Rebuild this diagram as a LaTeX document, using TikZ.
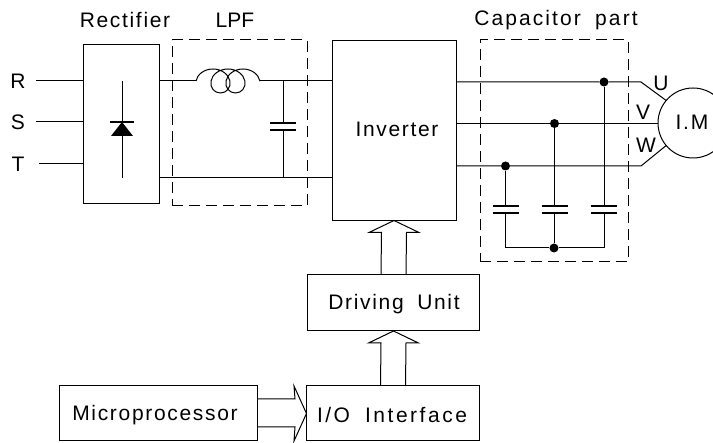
\documentclass[tikz,border=0pt]{standalone}
\usepackage{fontspec}
\setmainfont[LetterSpace=8,WordSpace=1.8]{Liberation Sans}
\usetikzlibrary{positioning,calc,decorations.pathmorphing}
\tikzset{
	block/.style={
		draw,
		line width=1pt,
		inner sep=0pt,
		outer sep=0pt,
	},
	dashbox/.style={
		block,
		dash pattern=on 11pt off 6pt,
	},
	wire/.style={
		line width=1pt,
	},
	plate/.style={
		line width=1.1pt,
	},
	junction/.style={
		circle,
		fill=black,
		inner sep=0pt,
		minimum size=9pt,
	},
	tag/.style={
		inner sep=0pt,
		font=\fontsize{21}{21}\selectfont,
	}
}
% hollow bus arrow: #1 tail point, #2 tip point, pointing up
\newcommand{\busup}[2]{
	\draw[wire] ($(#1)+(-12.5,0)$) -- ($(#2)+(-12.5,12)$) -- ($(#2)+(-25,12)$) -- (#2)
	-- ($(#2)+(25,12)$) -- ($(#2)+(12.5,12)$) -- ($(#1)+(12.5,0)$);
}
\begin{document}
\begin{tikzpicture}[x=1pt,y=-1pt]
	\useasboundingbox (0,0) rectangle (713,443);
	% --- Blocks ---
	\node[block, minimum width=76pt, minimum height=159pt] (rectifier) at (121,124.5) {};
	\node[dashbox, minimum width=135pt, minimum height=166pt] (lpf) at (239.5,123) {};
	\node[block, minimum width=124pt, minimum height=180pt] (inverter) at (394,130.5) {};
	\node[dashbox, minimum width=148pt, minimum height=222pt] (cappart) at (554,151) {};
	\node[block, circle, minimum size=70pt] (motor) at (693,123) {};
	\node[block, minimum width=172pt, minimum height=56pt] (driving) at (393.5,303) {};
	\node[block, minimum width=173pt, minimum height=55pt] (ioface) at (393,413.5) {};
	\node[block, minimum width=198pt, minimum height=55pt] (micro) at (158,413.5) {};

	% --- Titles ---
	\node[tag] (rectlabel) at (125,20) {Rectifier};
	\node[tag, font=\fontsize{21}{21}\selectfont\addfontfeatures{LetterSpace=0}] (lpflabel) at (235,20) {LPF};
	\node[tag, font=\fontsize{21}{21}\selectfont\addfontfeatures{LetterSpace=10}] (caplabel) at (556,20) {Capacitor part};
	\node[tag] (rlabel) at (18,81) {R};
	\node[tag] (slabel) at (18,122) {S};
	\node[tag] (tlabel) at (18,164) {T};
	\node[tag] (invlabel) at (397,129) {Inverter};
	\node[tag] (drvlabel) at (394,304) {Driving Unit};
	\node[tag, font=\fontsize{21}{21}\selectfont\addfontfeatures{LetterSpace=12}] (iolabel) at (392,415) {I/O Interface};
	\node[tag] (miclabel) at (155,415) {Microprocessor};
	\node[tag] (ulabel) at (661,83) {U};
	\node[tag] (vlabel) at (643,112) {V};
	\node[tag] (wlabel) at (646,145) {W};
	\node[tag] (mlabel) at (692,122) {I.M};

	% --- Mains input ---
	\coordinate (rin) at (36,81);
	\coordinate (sin) at (36,122);
	\coordinate (tin) at (39,164);
	\draw[wire] (rin) -- (rin -| rectifier.west);
	\draw[wire] (sin) -- (sin -| rectifier.west);
	\draw[wire] (tin) -- (tin -| rectifier.west);

	% --- Diode ---
	\coordinate (dtop) at (122,81);
	\coordinate (dapex) at (122,122);
	\coordinate (dbot) at (122,178);
	\draw[wire] (dtop) -- (dbot);
	\draw[plate] ($(dapex)+(-12,0)$) -- ($(dapex)+(12,0)$);
	\fill (dapex) -- ($(dapex)+(11,14)$) -- ($(dapex)+(-11,14)$) -- cycle;

	% --- LPF ---
	\coordinate (lin) at (196,81);
	\coordinate (lout) at (260,81);
	\coordinate (lcap) at (283,81);
	\coordinate (lgnd) at (283,178);
	\draw[wire] (lin |- lcap) -- (rectifier.east |- lcap);
	\draw[wire, decorate, decoration={coil, aspect=1.1, amplitude=12pt, segment length=15pt}] (lin) -- (lout);
	\draw[wire] (lout) -- (inverter.west |- lout);
	\draw[wire] (rectifier.east |- lgnd) -- (inverter.west |- lgnd);
	\draw[wire] (lcap) -- ++(0,42) (lgnd) -- ++(0,-48);
	\draw[plate] (270,123) -- (296,123) (270,130) -- (296,130);

	% --- Capacitor part ---
	\node[junction] (du) at (604,82) {};
	\node[junction] (dv) at (554.5,123.5) {};
	\node[junction] (dw) at (505.5,166) {};
	\node[junction] (dn) at (554,248) {};
	\coordinate (ubend) at (641,82);
	\coordinate (wbend) at (641,166);
	\draw[wire] (inverter.east |- du) -- (du) -- (ubend) -- (motor.140);
	\draw[wire] (inverter.east |- dv) -- (dv) -- (motor.west |- dv);
	\draw[wire] (inverter.east |- dw) -- (dw) -- (wbend) -- (motor.220);
	\draw[wire] (dw) -- ++(0,40) (dv) -- ++(0,82.5) (du) -- ++(0,124);
	\draw[wire] (dw |- dn) -- ++(0,-35) (dn) -- ++(0,-35) (du |- dn) -- ++(0,-35);
	\draw[wire] (dw |- dn) -- (dn) -- (du |- dn);
	\draw[plate] (492.5,206) -- (518.5,206) (492.5,213) -- (518.5,213);
	\draw[plate] (541.5,206) -- (567.5,206) (541.5,213) -- (567.5,213);
	\draw[plate] (591,206) -- (617,206) (591,213) -- (617,213);

	% --- Bus arrows ---
	\busup{driving.north}{inverter.south}
	\busup{ioface.north}{driving.south}
	\coordinate (headtop) at (294,386);
	\coordinate (headbot) at (294,441);
	\draw[wire] (micro.east |- 0,399) -- (295,399) -- (headtop) -- (ioface.west) -- (headbot) -- (295,427) -- (micro.east |- 0,427);
\end{tikzpicture}
\end{document}
